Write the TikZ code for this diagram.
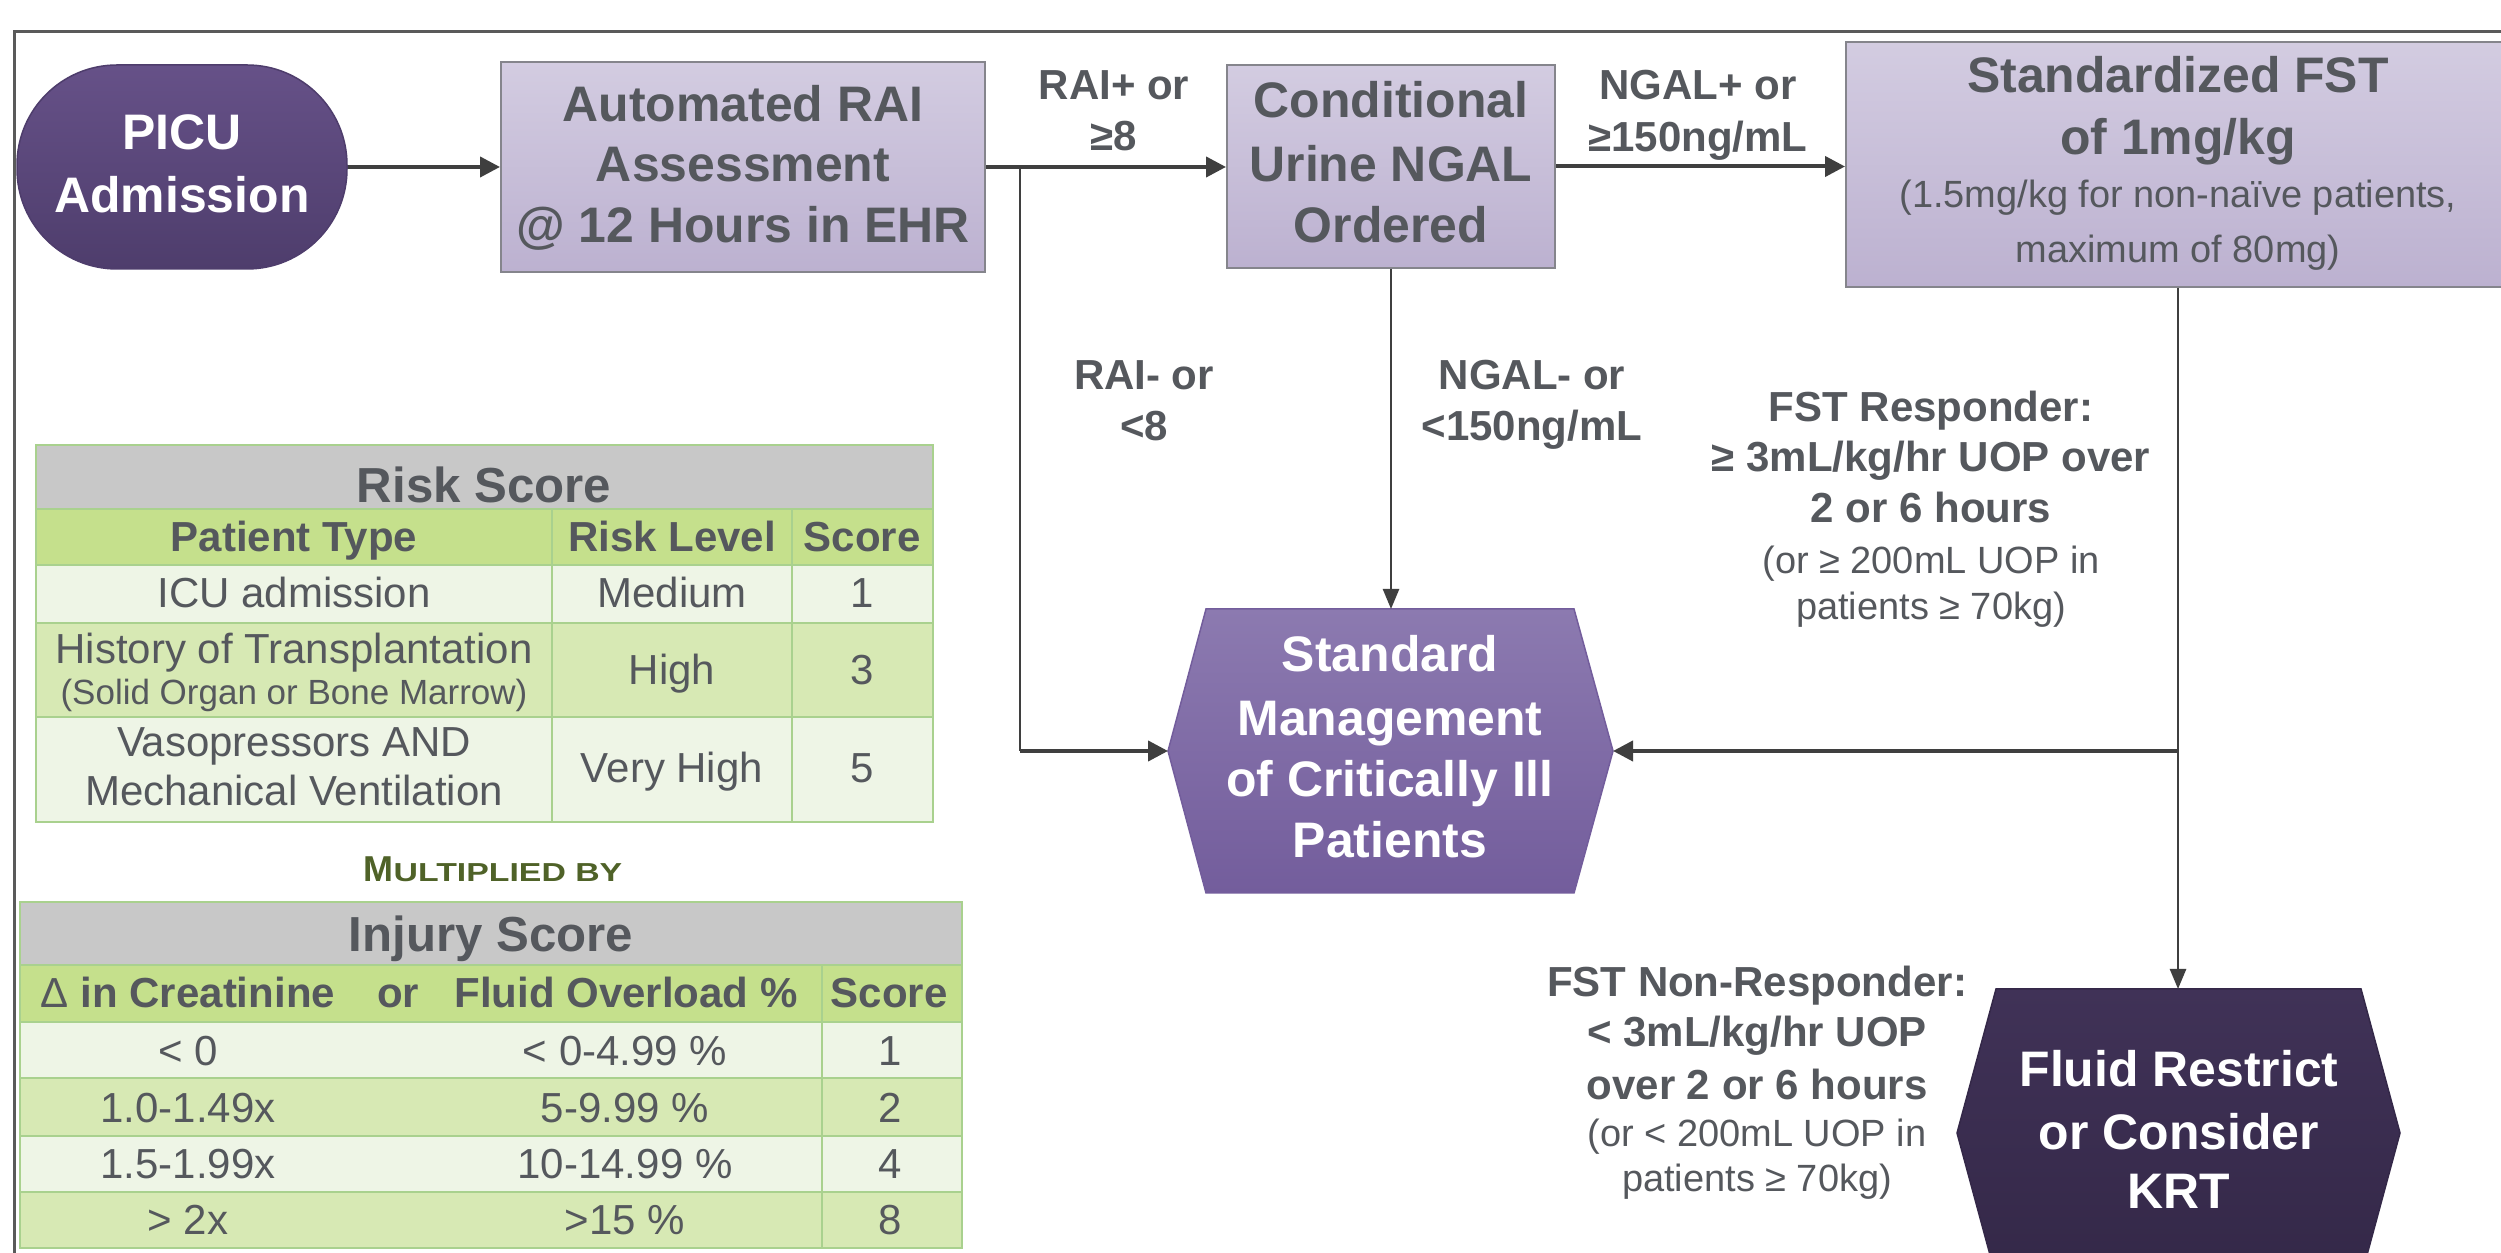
\documentclass[tikz,border=0pt]{standalone}
\usepackage{fontspec}
\setmainfont{Liberation Sans}
\usepackage{graphicx}
\usetikzlibrary{arrows.meta}
\definecolor{txtgray}{HTML}{55585D}
\definecolor{arrgray}{HTML}{3F3F3F}
\definecolor{lavtop}{HTML}{D3CCE1}
\definecolor{lavbot}{HTML}{BCB1D0}
\definecolor{boxline}{HTML}{85858C}
\definecolor{picutop}{HTML}{665188}
\definecolor{picubot}{HTML}{4E3D6C}
\definecolor{smtop}{HTML}{8C7AB0}
\definecolor{smbot}{HTML}{735D9C}
\definecolor{frtop}{HTML}{403257}
\definecolor{frbot}{HTML}{342848}
\definecolor{hdgray}{HTML}{C8C8C8}
\definecolor{hdgreen}{HTML}{C5E08C}
\definecolor{rowlight}{HTML}{EEF5E6}
\definecolor{rowdark}{HTML}{D7E9B4}
\definecolor{tline}{HTML}{A9D18E}
\definecolor{olivetxt}{HTML}{4F6228}
\definecolor{framegray}{HTML}{5A5A5A}
\tikzset{
  lavbox/.style={draw=boxline, line width=0.2mm, top color=lavtop, bottom color=lavbot, inner sep=0pt},
  picubox/.style={draw=picubot, line width=0.15mm, top color=picutop, bottom color=picubot, rounded corners=10mm, inner sep=0pt},
  smshape/.style={draw=smbot, line width=0.15mm, top color=smtop, bottom color=smbot},
  frshape/.style={draw=frbot, line width=0.15mm, top color=frtop, bottom color=frbot},
  thickarr/.style={draw=arrgray, line width=0.4mm, -{Triangle[length=2mm,width=2mm]}},
  thinarr/.style={draw=arrgray, line width=0.25mm, -{Triangle[length=2mm,width=1.6mm]}},
  thinline/.style={draw=arrgray, line width=0.25mm},
  tb/.style={inner sep=0pt, anchor=base, text=txtgray, font=\fontsize{14.2}{17}\selectfont\bfseries},
  tw/.style={tb, text=white},
  tbr/.style={inner sep=0pt, anchor=base, text=txtgray, font=\fontsize{10.8}{13}\selectfont},
  lb/.style={inner sep=0pt, anchor=base, text=txtgray, font=\fontsize{11.95}{14}\selectfont\bfseries},
  lr/.style={inner sep=0pt, anchor=base, text=txtgray, font=\fontsize{10.8}{13}\selectfont},
  cell/.style={draw=tline, line width=0.2mm},
  ttl/.style={inner sep=0pt, anchor=base, text=txtgray, font=\fontsize{14.0}{17}\selectfont\bfseries},
  th/.style={inner sep=0pt, anchor=base, text=txtgray, font=\fontsize{11.95}{14}\selectfont\bfseries},
  tr/.style={inner sep=0pt, anchor=base, text=txtgray, font=\fontsize{11.95}{14}\selectfont},
  ts/.style={inner sep=0pt, anchor=base, text=txtgray, font=\fontsize{9.96}{12}\selectfont}
}
\begin{document}
\begin{tikzpicture}[x=0.1mm,y=-0.1mm]
\useasboundingbox (0,0) rectangle (2501,1253);
\clip (0,0) rectangle (2501,1253);
\fill[white] (0,0) rectangle (2501,1253);
% outer frame
\draw[framegray, line width=0.3mm] (14,32) rectangle (2560,1300);

% boxes
\node[picubox, minimum width=33mm, minimum height=20.4mm] (picu) at (182,167) {};
\node[lavbox, minimum width=48.4mm, minimum height=21mm] (rai) at (743,167) {};
\node[lavbox, minimum width=32.8mm, minimum height=20.3mm] (ngal) at (1391,166.5) {};
\node[lavbox, minimum width=66.4mm, minimum height=24.5mm] (fst) at (2178,164.5) {};

% hexagons
\path[smshape] (1206,609) -- (1574,609) -- (1613,751) -- (1574,893) -- (1206,893) -- (1168,751) -- cycle;
\coordinate (smW) at (1168,751);
\coordinate (smE) at (1613,751);
\coordinate (smN) at (1391,609);
\path[frshape] (1996,989) -- (2361,989) -- (2400,1133) -- (2361,1277) -- (1996,1277) -- (1957,1133) -- cycle;
\coordinate (frN) at (2178,989);

% connectors
\coordinate (j1) at (1020,167);
\coordinate (j2) at (2178,751);
\draw[thickarr] (picu) -- (rai);
\draw[thickarr] (rai.east) -- (rai.east -| ngal.west);
\draw[thinline] (j1) -- (j1 |- smW);
\draw[thickarr] (j1 |- smW) -- (smW);
\draw[thickarr] (ngal.east) -- (ngal.east -| fst.west);
\draw[thinarr] (ngal.south) -- (smN);
\draw[thinline] (fst.south) -- (j2);
\draw[thinarr] (j2) -- (frN);
\draw[thickarr] (j2) -- (smE);

% box texts
\node[tw] (picu1) at (182,150) {PICU};
\node[tw] (picu2) at (182,213) {Admission};
\node[tb] (rai1) at (743,122) {Automated RAI};
\node[tb] (rai2) at (743,182) {Assessment};
\node[tb] (rai3) at (743,243) {@ 12 Hours in EHR};
\node[tb] (ngal1) at (1391,118) {Conditional};
\node[tb] (ngal2) at (1391,182) {Urine NGAL};
\node[tb] (ngal3) at (1391,243) {Ordered};
\node[tb] (fst1) at (2178,93) {Standardized FST};
\node[tb] (fst2) at (2178,155) {of 1mg/kg};
\node[tbr] (fst3) at (2178,208) {(1.5mg/kg for non-naïve patients,};
\node[tbr] (fst4) at (2178,263) {maximum of 80mg)};
\node[tw] (sm1) at (1390,672) {Standard};
\node[tw] (sm2) at (1390,736) {Management};
\node[tw] (sm3) at (1390,797) {of Critically Ill};
\node[tw] (sm4) at (1390,858) {Patients};
\node[tw] (fr1) at (2179,1086) {Fluid Restrict};
\node[tw] (fr2) at (2179,1149) {or Consider};
\node[tw] (fr3) at (2179,1208) {KRT};

% connector labels
\node[lb] (raip1) at (1114,100) {RAI+ or};
\node[lb] (raip2) at (1114,151) {≥8};
\node[lb] (raim1) at (1144,390) {RAI- or};
\node[lb] (raim2) at (1144,441) {<8};
\node[lb] (ngp1) at (1698,100) {NGAL+ or};
\node[lb] (ngp2) at (1698,152) {≥150ng/mL};
\node[lb] (ngm1) at (1532,390) {NGAL- or};
\node[lb] (ngm2) at (1532,441) {<150ng/mL};
\node[lb] (rs1) at (1931,422) {FST Responder:};
\node[lb] (rs2) at (1931,472) {≥ 3mL/kg/hr UOP over};
\node[lb] (rs3) at (1931,523) {2 or 6 hours};
\node[lr] (rs4) at (1931,574) {(or ≥ 200mL UOP in};
\node[lr] (rs5) at (1931,620) {patients ≥ 70kg)};
\node[lb] (nr1) at (1757,997) {FST Non-Responder:};
\node[lb] (nr2) at (1757,1047) {< 3mL/kg/hr UOP};
\node[lb] (nr3) at (1757,1100) {over 2 or 6 hours};
\node[lr] (nr4) at (1757,1146) {(or < 200mL UOP in};
\node[lr] (nr5) at (1757,1191) {patients ≥ 70kg)};

% Risk Score table
\path[cell, fill=hdgray] (36,445) rectangle (933,509);
\path[cell, fill=hdgreen] (36,509) rectangle (552,565);
\path[cell, fill=hdgreen] (552,509) rectangle (792,565);
\path[cell, fill=hdgreen] (792,509) rectangle (933,565);
\path[cell, fill=rowlight] (36,565) rectangle (552,623);
\path[cell, fill=rowlight] (552,565) rectangle (792,623);
\path[cell, fill=rowlight] (792,565) rectangle (933,623);
\path[cell, fill=rowdark] (36,623) rectangle (552,717);
\path[cell, fill=rowdark] (552,623) rectangle (792,717);
\path[cell, fill=rowdark] (792,623) rectangle (933,717);
\path[cell, fill=rowlight] (36,717) rectangle (552,822);
\path[cell, fill=rowlight] (552,717) rectangle (792,822);
\path[cell, fill=rowlight] (792,717) rectangle (933,822);
\node[ttl] (rtitle) at (484,503) {Risk Score};
\node[th] (rh1) at (294,552) {Patient Type};
\node[th] (rh2) at (672,552) {Risk Level};
\node[th] (rh3) at (862,552) {Score};
\node[tr] (r11) at (294,608) {ICU admission};
\node[tr] (r12) at (672,608) {Medium};
\node[tr] (r13) at (862,608) {1};
\node[tr] (r21) at (294,664) {History of Transplantation};
\node[ts] (r21b) at (294,705) {(Solid Organ or Bone Marrow)};
\node[tr] (r22) at (672,685) {High};
\node[tr] (r23) at (862,685) {3};
\node[tr] (r31) at (294,757) {Vasopressors AND};
\node[tr] (r31b) at (294,806) {Mechanical Ventilation};
\node[tr] (r32) at (672,783) {Very High};
\node[tr] (r33) at (862,783) {5};

% Multiplied by
\node[inner sep=0pt, anchor=base, text=olivetxt, font=\bfseries] (mult) at (493,882)
  {{\fontsize{10.24}{12}\selectfont M}\scalebox{1.3}[1]{\fontsize{7.4}{9}\selectfont ULTIPLIED BY}};

% Injury Score table
\path[cell, fill=hdgray] (20,902) rectangle (962,965);
\path[cell, fill=hdgreen] (20,965) rectangle (822,1022);
\path[cell, fill=hdgreen] (822,965) rectangle (962,1022);
\path[cell, fill=rowlight] (20,1022) rectangle (822,1078);
\path[cell, fill=rowlight] (822,1022) rectangle (962,1078);
\path[cell, fill=rowdark] (20,1078) rectangle (822,1136);
\path[cell, fill=rowdark] (822,1078) rectangle (962,1136);
\path[cell, fill=rowlight] (20,1136) rectangle (822,1192);
\path[cell, fill=rowlight] (822,1136) rectangle (962,1192);
\path[cell, fill=rowdark] (20,1192) rectangle (822,1248);
\path[cell, fill=rowdark] (822,1192) rectangle (962,1248);
\node[ttl] (ititle) at (491,952) {Injury Score};
\node[th] (ih1) at (188,1008) {{\mdseries Δ} in Creatinine};
\node[th] (ih2) at (398,1008) {or};
\node[th] (ih3) at (626,1008) {Fluid Overload \%};
\node[th] (ih4) at (889,1008) {Score};
\node[tr] (i11) at (188,1065) {< 0};
\node[tr] (i12) at (625,1065) {< 0-4.99 \%};
\node[tr] (i13) at (890,1065) {1};
\node[tr] (i21) at (188,1122) {1.0-1.49x};
\node[tr] (i22) at (625,1122) {5-9.99 \%};
\node[tr] (i23) at (890,1122) {2};
\node[tr] (i31) at (188,1178) {1.5-1.99x};
\node[tr] (i32) at (625,1178) {10-14.99 \%};
\node[tr] (i33) at (890,1178) {4};
\node[tr] (i41) at (188,1234) {> 2x};
\node[tr] (i42) at (625,1234) {>15 \%};
\node[tr] (i43) at (890,1234) {8};
\end{tikzpicture}
\end{document}
